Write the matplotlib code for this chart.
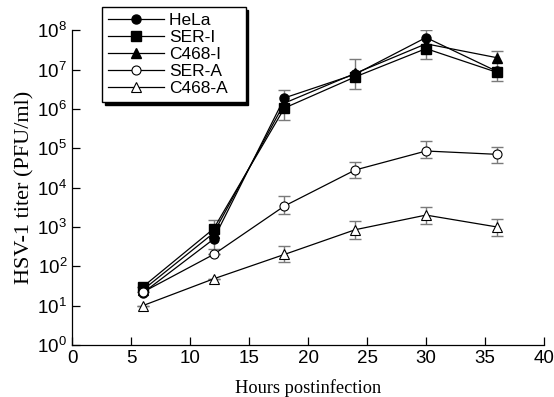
import matplotlib
matplotlib.use("Agg")
import matplotlib.pyplot as plt
from matplotlib.ticker import FixedLocator, NullLocator

plt.rcParams['font.family'] = ['Liberation Sans', 'DejaVu Sans']
plt.rcParams['mathtext.fontset'] = 'custom'
plt.rcParams['mathtext.rm'] = 'Liberation Sans'
plt.rcParams['mathtext.it'] = 'Liberation Sans'

hours = [6, 12, 18, 24, 30, 36]

hela = [21, 490, 1.9e6, 7.6e6, 6.5e7, 9.0e6]
ser_i = [30, 900, 1.05e6, 6.5e6, 3.4e7, 8.5e6]
c468_i = [25, 700, 1.4e6, 8.0e6, 4.5e7, 2.0e7]
ser_a = [22, 200, 3400, 28000, 85000, 70000]
c468_a = [10, 48, 200, 850, 2000, 1000]

# error bar limits (lower, upper)
inf_lo = [30, 270, 5.2e5, 3.2e6, 1.8e7, 5.1e6]
inf_hi = [30, 1500, 3.0e6, 1.8e7, 1.0e8, 2.9e7]
ser_a_lo = [22, 200, 2100, 18000, 56000, 42000]
ser_a_hi = [22, 200, 6000, 45000, 150000, 105000]
c468_a_lo = [10, 48, 130, 480, 1200, 580]
c468_a_hi = [10, 48, 330, 1450, 3200, 1550]

fig = plt.figure(figsize=(5.54, 3.97), dpi=100)
ax = fig.add_axes([0.130, 0.131, 0.852, 0.793])

def err(vals, lo, hi):
    return [[v - l for v, l in zip(vals, lo)], [h - v for v, h in zip(vals, hi)]]

ebk = dict(fmt='none', ecolor='#7a7a7a', elinewidth=1.0, capsize=4, capthick=1.0, zorder=1)
ax.errorbar(hours, ser_i, yerr=err(ser_i, inf_lo, inf_hi), **ebk)
ax.errorbar(hours, ser_a, yerr=err(ser_a, ser_a_lo, ser_a_hi), **ebk)
ax.errorbar(hours, c468_a, yerr=err(c468_a, c468_a_lo, c468_a_hi), **ebk)

lw = 0.9
ax.plot(hours, hela, '-o', color='black', lw=lw, ms=6.5, label='HeLa      ', zorder=3)
ax.plot(hours, ser_i, '-s', color='black', lw=lw, ms=6.5, label='SER-I', zorder=3)
ax.plot(hours, c468_i, '-^', color='black', lw=lw, ms=6.5, label='C468-I', zorder=3)
ax.plot(hours, ser_a, '-o', color='black', mfc='white', mew=0.8, lw=lw, ms=6.5,
        label='SER-A', zorder=3)
ax.plot(hours, c468_a, '-^', color='black', mfc='white', mew=0.8, lw=lw, ms=6.5,
        label='C468-A', zorder=3)

ax.set_yscale('log')
ax.set_xlim(0, 40)
ax.set_ylim(1, 1e8)
ax.xaxis.set_major_locator(FixedLocator([0, 5, 10, 15, 20, 25, 30, 35, 40]))
ax.yaxis.set_major_locator(FixedLocator([10 ** k for k in range(9)]))
ax.yaxis.set_minor_locator(NullLocator())
ax.set_yticklabels(['$10^{%d}$' % k for k in range(9)])
ax.tick_params(direction='in', length=6, width=0.9, labelsize=13.5, pad=3.5)
for s in ['top', 'right']:
    ax.spines[s].set_visible(False)
for s in ['left', 'bottom']:
    ax.spines[s].set_linewidth(0.9)

ax.set_xlabel('Hours postinfection', family=['Liberation Serif'], fontsize=13.2, labelpad=9)
ax.set_ylabel('HSV-1 titer (PFU/ml)', family=['Liberation Serif'], fontsize=16, labelpad=2)

leg = ax.legend(loc='upper left', bbox_to_anchor=(0.184, 0.982), bbox_transform=fig.transFigure,
                borderaxespad=0, fontsize=12.5, handlelength=3.2, handletextpad=0.3,
                labelspacing=0.1, borderpad=0.35, fancybox=False, edgecolor='black',
                framealpha=1, shadow=dict(facecolor='black', edgecolor='black', alpha=1))
leg.get_frame().set_linewidth(1.0)

fig.savefig('out.png', dpi=100)
